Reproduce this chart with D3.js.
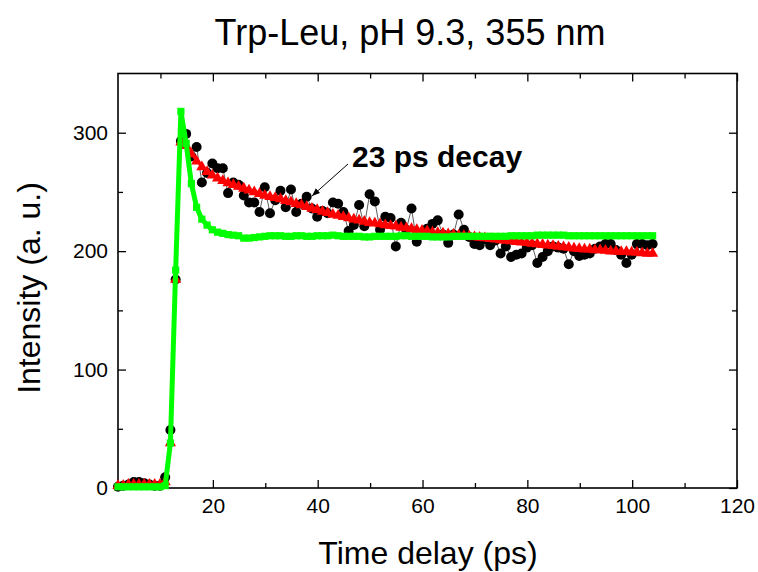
<!DOCTYPE html>
<html>
<head>
<meta charset="utf-8">
<script src="https://cdn.jsdelivr.net/npm/d3@7"></script>
<style>
  html, body { margin: 0; padding: 0; background: #fff; }
  svg { display: block; font-family: "Liberation Sans", Arial, Helvetica, sans-serif; }
</style>
</head>
<body>
<div id="chart"></div>
<script>
// time grid (ps)
const times = [
  1.9, 2.9, 3.9, 4.9, 5.9, 6.9, 7.9, 8.9, 9.9, 10.9,
  11.9, 12.9, 13.9, 14.9, 15.9, 16.9, 17.9, 18.9, 19.9, 20.9,
  21.9, 22.9, 23.9, 24.9, 25.9, 26.9, 27.9, 28.9, 29.9, 30.9,
  31.9, 32.9, 33.9, 34.9, 35.9, 36.9, 37.9, 38.9, 39.9, 40.9,
  41.9, 42.9, 43.9, 44.9, 45.9, 46.9, 47.9, 48.9, 49.9, 50.9,
  51.9, 52.9, 53.9, 54.9, 55.9, 56.9, 57.9, 58.9, 59.9, 60.9,
  61.9, 62.9, 63.9, 64.9, 65.9, 66.9, 67.9, 68.9, 69.9, 70.9,
  71.9, 72.9, 73.9, 74.9, 75.9, 76.9, 77.9, 78.9, 79.9, 80.9,
  81.9, 82.9, 83.9, 84.9, 85.9, 86.9, 87.9, 88.9, 89.9, 90.9,
  91.9, 92.9, 93.9, 94.9, 95.9, 96.9, 97.9, 98.9, 99.9, 100.9,
  101.9, 102.9, 103.9
];

// measured intensity (black dots)
const measured = [
  1, 2, 3, 5, 5, 4, 3, 2, 2, 9,
  49, 176, 293, 299, 280, 288, 258, 266, 274, 270,
  270, 249, 258, 256, 247, 241, 241, 233, 254, 232,
  243, 251, 237, 252, 233, 240, 246, 236, 229, 234,
  232, 241, 240, 233, 217, 222, 239, 221, 248, 242,
  218, 229, 228, 204, 224, 218, 236, 208, 215, 219,
  223, 226, 214, 207, 214, 231, 218, 212, 206, 205,
  210, 205, 209, 198, 204, 195, 197, 198, 203, 205,
  190, 195, 200, 204, 203, 202, 189, 200, 196, 197,
  198, 202, 204, 206, 206, 201, 197, 190, 197, 206,
  206, 205, 206
];

// 23 ps decay fit (red triangles)
const fit = [
  2, 2, 3, 3, 3, 3, 3, 3, 3, 5,
  38, 176, 292, 289, 282, 276, 271, 267, 264, 261.5,
  259.5, 257.5, 256, 254.5, 253, 251.5, 250, 248.5, 247, 246,
  245, 244, 242.5, 241.5, 240, 239, 237.5, 236, 235, 233.5,
  232.5, 231, 230, 229, 228, 227, 226, 225, 224, 223.5,
  223, 222, 221.5, 221, 220, 219.5, 219, 218, 217.5, 217,
  216, 215.5, 215, 214.5, 214, 213.5, 213, 212.5, 212, 211.5,
  211, 210.5, 210, 209.5, 209, 208.5, 208, 207.5, 207, 206.5,
  206, 205.5, 205, 204.5, 204, 203.5, 203, 202.5, 202, 201.5,
  201.5, 201, 201, 200.5, 200, 200, 199.5, 199.5, 199, 199,
  198.5, 198, 198
];

// instrument response (green squares)
const response = [
  1, 1, 1, 1, 1, 1, 1, 1, 1, 2,
  38, 184, 318, 291, 257, 237, 227, 222, 218, 216,
  215, 214, 213.5, 213, 211, 211, 211.5, 212, 212.5, 213,
  213, 213, 212.5, 212.5, 213, 213, 212.5, 212.5, 213, 213,
  213, 213.5, 213, 212.5, 212.5, 212.5, 212.5, 212, 212, 212.5,
  212.5, 212.5, 212.5, 212.5, 213, 213, 212.5, 212.5, 212.5, 212.5,
  212, 212, 212, 212, 212.5, 212.5, 212.5, 212.5, 212.5, 212.5,
  212.5, 212.5, 212.5, 212.5, 212.5, 213, 213, 213, 213, 213,
  213.5, 213.5, 213.5, 213.5, 213.5, 213.5, 213, 213, 213, 213,
  213, 213, 213, 213, 213, 213, 213, 213, 213, 213,
  213, 213, 213
];

const xMajor = [20, 40, 60, 80, 100, 120];
const xMinor = [10, 30, 50, 70, 90, 110];
const yMajor = [0, 100, 200, 300];
const yMinor = [50, 150, 250];

const W = 758, H = 572;
const frame = { left: 118, right: 737, top: 73.5, bottom: 488 };

const svg = d3.select("#chart").append("svg")
  .attr("width", W)
  .attr("height", H);

const x = d3.scaleLinear().domain([1.9, 120]).range([frame.left, frame.right]);
const y = d3.scaleLinear().domain([0, 350]).range([frame.bottom, frame.top]);

const rows = times.map((t, i) => ({ t, m: measured[i], f: fit[i], r: response[i] }));

// title
svg.append("text")
  .attr("x", 410).attr("y", 45)
  .attr("text-anchor", "middle")
  .attr("font-size", "36px")
  .text("Trp-Leu, pH 9.3, 355 nm");

// axes: ticks pointing inward, labels on bottom / left only
function addAxis(axis, transform) {
  const g = svg.append("g").attr("transform", transform).call(axis);
  g.select(".domain").remove();
  g.selectAll(".tick line").attr("stroke", "#000").attr("stroke-width", 1.3);
  return g;
}

const bottom = addAxis(d3.axisBottom(x).tickValues(xMajor).tickSize(-8).tickPadding(10),
  `translate(0,${frame.bottom})`);
bottom.selectAll("text").attr("font-size", "21px").attr("fill", "#000");
addAxis(d3.axisBottom(x).tickValues(xMinor).tickSize(-5).tickFormat(""), `translate(0,${frame.bottom})`);
addAxis(d3.axisTop(x).tickValues(xMajor).tickSize(-8).tickFormat(""), `translate(0,${frame.top})`);
addAxis(d3.axisTop(x).tickValues(xMinor).tickSize(-5).tickFormat(""), `translate(0,${frame.top})`);

const left = addAxis(d3.axisLeft(y).tickValues(yMajor).tickSize(-8).tickPadding(10),
  `translate(${frame.left},0)`);
left.selectAll("text").attr("font-size", "21px").attr("fill", "#000");
addAxis(d3.axisLeft(y).tickValues(yMinor).tickSize(-5).tickFormat(""), `translate(${frame.left},0)`);
addAxis(d3.axisRight(y).tickValues(yMajor).tickSize(-8).tickFormat(""), `translate(${frame.right},0)`);
addAxis(d3.axisRight(y).tickValues(yMinor).tickSize(-5).tickFormat(""), `translate(${frame.right},0)`);

svg.append("rect")
  .attr("x", frame.left).attr("y", frame.top)
  .attr("width", frame.right - frame.left)
  .attr("height", frame.bottom - frame.top)
  .attr("fill", "none")
  .attr("stroke", "#000")
  .attr("stroke-width", 1.6);

// axis titles
svg.append("text")
  .attr("x", 428).attr("y", 564)
  .attr("text-anchor", "middle")
  .attr("font-size", "32px")
  .text("Time delay (ps)");

svg.append("text")
  .attr("transform", "translate(40,288) rotate(-90)")
  .attr("text-anchor", "middle")
  .attr("font-size", "32px")
  .text("Intensity (a. u.)");

// measured data: thin line + black dots
svg.append("path")
  .datum(rows)
  .attr("fill", "none")
  .attr("stroke", "#333")
  .attr("stroke-width", 0.8)
  .attr("d", d3.line().x(d => x(d.t)).y(d => y(d.m)));

svg.append("g").selectAll("circle")
  .data(rows)
  .enter().append("circle")
  .attr("cx", d => x(d.t))
  .attr("cy", d => y(d.m))
  .attr("r", 5)
  .attr("fill", "#000");

// fit: red line + triangles
svg.append("path")
  .datum(rows)
  .attr("fill", "none")
  .attr("stroke", "#ff0000")
  .attr("stroke-width", 2)
  .attr("d", d3.line().x(d => x(d.t)).y(d => y(d.f)));

const tri = d3.symbol().type(d3.symbolTriangle).size(55);
svg.append("g").selectAll("path")
  .data(rows)
  .enter().append("path")
  .attr("transform", d => `translate(${x(d.t)},${y(d.f)})`)
  .attr("d", tri)
  .attr("fill", "#ff0000");

// response: thick green line + squares
svg.append("path")
  .datum(rows)
  .attr("fill", "none")
  .attr("stroke", "#00ff00")
  .attr("stroke-width", 5)
  .attr("stroke-linejoin", "round")
  .attr("d", d3.line().x(d => x(d.t)).y(d => y(d.r)));

svg.append("g").selectAll("rect")
  .data(rows)
  .enter().append("rect")
  .attr("x", d => x(d.t) - 3.6)
  .attr("y", d => y(d.r) - 3.6)
  .attr("width", 7.2)
  .attr("height", 7.2)
  .attr("fill", "#00ff00");

// annotation
svg.append("defs").append("marker")
  .attr("id", "arrow")
  .attr("viewBox", "0 0 10 10")
  .attr("refX", 10).attr("refY", 5)
  .attr("markerWidth", 8).attr("markerHeight", 8)
  .attr("orient", "auto")
  .append("path")
  .attr("d", "M0,1 L10,5 L0,9 Z")
  .attr("fill", "#000");

svg.append("line")
  .attr("x1", 348).attr("y1", 164)
  .attr("x2", 312).attr("y2", 196)
  .attr("stroke", "#000")
  .attr("stroke-width", 1)
  .attr("marker-end", "url(#arrow)");

svg.append("text")
  .attr("x", 352).attr("y", 167)
  .attr("font-size", "30px")
  .attr("font-weight", "bold")
  .text("23 ps decay");
</script>
</body>
</html>
